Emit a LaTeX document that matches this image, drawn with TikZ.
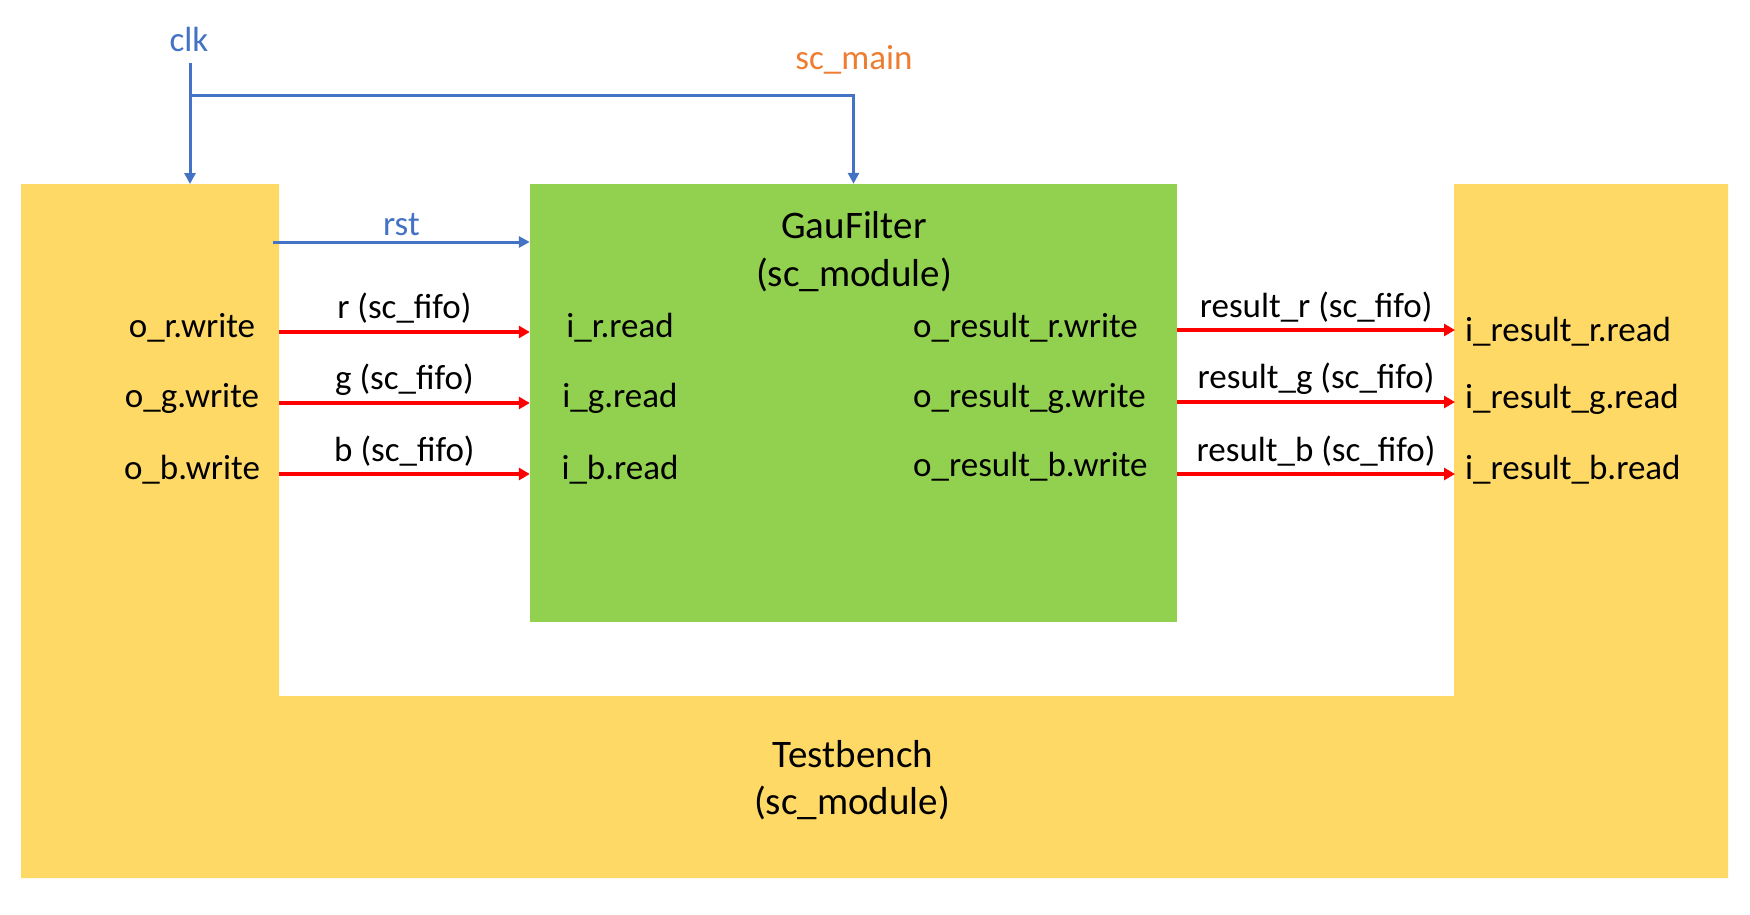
\documentclass[tikz,border=0pt]{standalone}
\usepackage{fontspec}
\setmainfont{Carlito}
\usepackage{tikz}
\usetikzlibrary{arrows.meta, positioning, calc}
\definecolor{tbyellow}{HTML}{FFD966}
\definecolor{gaugreen}{HTML}{92D050}
\definecolor{sigblue}{HTML}{4472C4}
\definecolor{mainorange}{HTML}{ED7D31}
\definecolor{fifored}{HTML}{FF0000}
\newcommand{\lblfont}{\fontsize{35}{42}\selectfont}
\newcommand{\ttlfont}{\fontsize{39}{47}\selectfont}

\begin{document}
\begin{tikzpicture}[x=1pt, y=-1pt, >=Latex,
  txt/.style={inner sep=0pt, font=\lblfont, text=black},
  ttl/.style={inner sep=0pt, font=\ttlfont, text=black, anchor=base},
  sig/.style={draw=sigblue, line width=3pt, -{Triangle[length=11pt,width=11pt]}},
  fifo/.style={draw=fifored, line width=3.5pt, -{Triangle[length=11pt,width=12pt]}}]
  \useasboundingbox (0,0) rectangle (1750,914);

  % testbench (U shape)
  \fill[tbyellow] (21,184) -- (279,184) -- (279,696) -- (1454,696) -- (1454,184)
    -- (1728,184) -- (1728,878) -- (21,878) -- cycle;
  \node[ttl] (tbname) at (853,767) {Testbench};
  \node[ttl] (tbtype) at (852,814) {(sc\_module)};

  % filter module
  \node[fill=gaugreen, minimum width=647pt, minimum height=438pt, inner sep=0pt] (gau) at (853.5,403) {};
  \node[ttl] (gauname) at (854,238) {GauFilter};
  \node[ttl] (gautype) at (854,286) {(sc\_module)};

  \node[txt, text=sigblue, anchor=base] (clk) at (189,51) {clk};
  \node[txt, text=mainorange, anchor=base] (scmain) at (854,69) {sc\_main};

  % ports
  \node[txt, anchor=base] (owr) at (192,337) {o\_r.write};
  \node[txt, anchor=base] (owg) at (192,407) {o\_g.write};
  \node[txt, anchor=base] (owb) at (192,479) {o\_b.write};
  \node[txt, anchor=base] (irr) at (620,337) {i\_r.read};
  \node[txt, anchor=base] (irg) at (620,407) {i\_g.read};
  \node[txt, anchor=base] (irb) at (620,479) {i\_b.read};
  \node[txt, anchor=base west] (owrr) at (913,337) {o\_result\_r.write};
  \node[txt, anchor=base west] (owrg) at (913,407) {o\_result\_g.write};
  \node[txt, anchor=base west] (owrb) at (913,476) {o\_result\_b.write};
  \node[txt, anchor=base west] (irrr) at (1465,341) {i\_result\_r.read};
  \node[txt, anchor=base west] (irrg) at (1465,408) {i\_result\_g.read};
  \node[txt, anchor=base west] (irrb) at (1465,479) {i\_result\_b.read};

  % clock and reset
  \coordinate (clktop) at (190,63);
  \coordinate (clkjoin) at (190,95);
  \coordinate (tbclk) at (190,184);
  \coordinate (rstsrc) at (273,242);
  \draw[sig] (clktop) -- (tbclk);
  \draw[sig] (clkjoin) -- (clkjoin -| gau.north) -- (gau.north);
  \draw[sig] (rstsrc) -- (rstsrc -| gau.west)
    node[txt, text=sigblue, midway, above=5pt] (rst) {rst};

  % fifos into the filter
  \coordinate (rin) at (279,332);
  \coordinate (gin) at (279,403);
  \coordinate (bin) at (279,474);
  \draw[fifo] (rin) -- (rin -| gau.west) node[txt, midway, above=7pt] (rfifo) {r (sc\_fifo)};
  \draw[fifo] (gin) -- (gin -| gau.west) node[txt, midway, above=6pt] (gfifo) {g (sc\_fifo)};
  \draw[fifo] (bin) -- (bin -| gau.west) node[txt, midway, above=5.5pt] (bfifo) {b (sc\_fifo)};

  % fifos out of the filter
  \coordinate (rout) at (1455,330);
  \coordinate (gout) at (1455,402);
  \coordinate (bout) at (1455,474);
  \draw[fifo] (rout -| gau.east) -- (rout) node[txt, midway, above=6pt] (resr) {result\_r (sc\_fifo)};
  \draw[fifo] (gout -| gau.east) -- (gout) node[txt, midway, above=6pt] (resg) {result\_g (sc\_fifo)};
  \draw[fifo] (bout -| gau.east) -- (bout) node[txt, midway, above=6pt] (resb) {result\_b (sc\_fifo)};
\end{tikzpicture}
\end{document}
